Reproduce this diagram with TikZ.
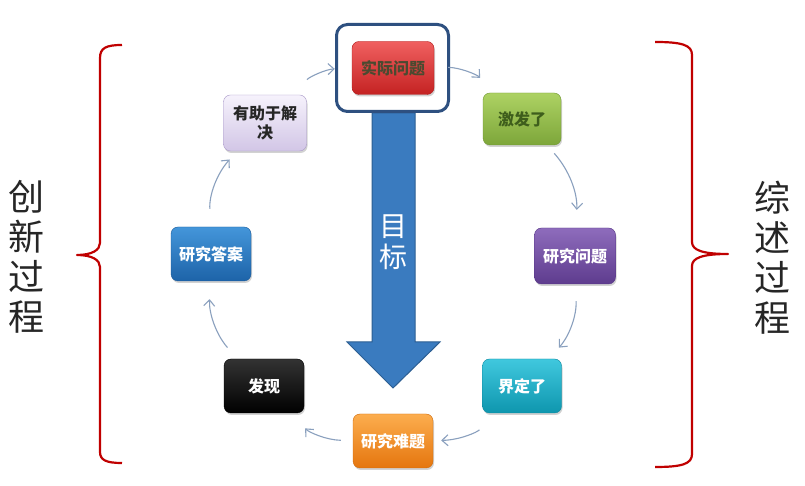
\documentclass[tikz,border=0pt]{standalone}
\usepackage{fontspec}
\newfontfamily\cjk{Noto Sans CJK SC}
\usetikzlibrary{arrows.meta,shadows}
\definecolor{connc}{HTML}{8AA0BE}
\definecolor{bracec}{HTML}{C00000}
\definecolor{arrowblue}{HTML}{3A7BBF}
\definecolor{arrowedge}{HTML}{2C5E92}
\definecolor{framec}{HTML}{2E5080}
\definecolor{redT}{HTML}{F06060}\definecolor{redB}{HTML}{C42222}\definecolor{redD}{HTML}{B01818}\definecolor{redTx}{HTML}{4A4A30}
\definecolor{grnT}{HTML}{ADD263}\definecolor{grnB}{HTML}{7DA63A}\definecolor{grnD}{HTML}{6E9530}\definecolor{grnTx}{HTML}{3E5E1C}
\definecolor{purT}{HTML}{8E6CBC}\definecolor{purB}{HTML}{5E3C8E}\definecolor{purD}{HTML}{553585}
\definecolor{cyaT}{HTML}{40C8DE}\definecolor{cyaB}{HTML}{0E96AE}\definecolor{cyaD}{HTML}{0C889E}
\definecolor{oraT}{HTML}{FCAD4E}\definecolor{oraB}{HTML}{E5760E}\definecolor{oraD}{HTML}{D06A0A}
\definecolor{blkT}{HTML}{333333}\definecolor{blkB}{HTML}{000000}
\definecolor{bluT}{HTML}{4496DA}\definecolor{bluB}{HTML}{1D63A8}\definecolor{bluD}{HTML}{1A5A9A}
\definecolor{lavT}{HTML}{F6F2FC}\definecolor{lavB}{HTML}{D2C6E6}\definecolor{lavD}{HTML}{A898C8}
\begin{document}
\begin{tikzpicture}[x=1pt,y=1pt,
  box/.style={rounded corners=7pt, minimum width=80pt, minimum height=54pt, inner sep=2pt,
    font=\cjk\bfseries\fontsize{16}{19}\selectfont, align=center,
    drop shadow={opacity=0.35,shadow xshift=1pt,shadow yshift=-2pt}},
  conn/.style={draw=connc, line width=1.1pt, -{Straight Barb[length=6pt,width=11pt]}, bend left=22.5},
  sidelabel/.style={font=\cjk\fontsize{36}{40}\selectfont, text=black!85, align=center},
  brace/.style={draw=bracec, line width=2.2pt, line join=round}
]
\useasboundingbox (0,0) rectangle (805,486);
\fill[white] (0,0) rectangle (805,486);

% big arrow
\filldraw[fill=arrowblue, draw=arrowedge, line width=1pt]
  (372,373) -- (415,373) -- (415,144) -- (440,144) -- (393,98) -- (347,144) -- (372,144) -- cycle;
\node[font=\cjk\fontsize{28}{31}\selectfont, text=white, align=center] (mubiao) at (393,244) {目\\标};

% nodes
\node[box, minimum width=82pt, minimum height=53pt, top color=redT, bottom color=redB, draw=redD, text=redTx] (shiji) at (393,418) {实际问题};
\node[draw=framec, line width=3pt, rounded corners=11pt, minimum width=112pt, minimum height=87pt] (frame) at (392.5,418) {};
\node[box, minimum width=78pt, minimum height=52pt, top color=grnT, bottom color=grnB, draw=grnD, text=grnTx] (jifa) at (522,367) {激发了};
\node[box, minimum width=81pt, minimum height=56pt, top color=purT, bottom color=purB, draw=purD, text=white] (yjwt) at (575,230) {研究问题};
\node[box, minimum width=79pt, minimum height=54pt, top color=cyaT, bottom color=cyaB, draw=cyaD, text=white] (jieding) at (522,100) {界定了};
\node[box, minimum width=80pt, minimum height=54pt, top color=oraT, bottom color=oraB, draw=oraD, text=white] (yjnt) at (393,45) {研究难题};
\node[box, minimum width=80pt, minimum height=54pt, top color=blkT, bottom color=blkB, draw=black, text=white] (faxian) at (264,100) {发现};
\node[box, minimum width=80pt, minimum height=54pt, top color=bluT, bottom color=bluB, draw=bluD, text=white] (yjda) at (211,232) {研究答案};
\node[box, minimum width=83pt, minimum height=56pt, top color=lavT, bottom color=lavB, draw=lavD, text=black!85] (youzhu) at (265,363) {有助于解\\决};

% connectors
\draw[conn, shorten <=14pt, shorten >=21pt] (shiji) to (jifa);
\draw[conn, shorten <=11pt, shorten >=18pt] (jifa) to (yjwt);
\draw[conn, shorten <=17pt, shorten >=15pt] (yjwt) to (jieding);
\draw[conn, shorten <=23pt, shorten >=8pt] (jieding) to (yjnt);
\draw[conn, shorten <=12pt, shorten >=21pt] (yjnt) to (faxian);
\draw[conn, shorten <=15pt, shorten >=18pt] (faxian) to (yjda);
\draw[conn, shorten <=18pt, shorten >=11pt] (yjda) to (youzhu);
\draw[conn, shorten <=21pt, shorten >=17pt] (youzhu) to (shiji);

% braces
\draw[brace] (122,441) .. controls (106,441) and (100,438) .. (100,428) -- (100,243)
  .. controls (100,236) and (92,231) .. (77,231)
  .. controls (92,231) and (100,226) .. (100,219) -- (100,34)
  .. controls (100,26) and (106,23) .. (122,23);
\draw[brace] (655,444) .. controls (682,444) and (692,441) .. (692,431) -- (692,244)
  .. controls (692,236) and (702,232) .. (728,232)
  .. controls (702,232) and (692,228) .. (692,220) -- (692,32)
  .. controls (692,22) and (682,19) .. (655,19);

% side labels
\node[sidelabel] (chuangxin) at (27,229) {创\\新\\过\\程};
\node[sidelabel] (zongshu) at (772,228) {综\\述\\过\\程};
\end{tikzpicture}
\end{document}
